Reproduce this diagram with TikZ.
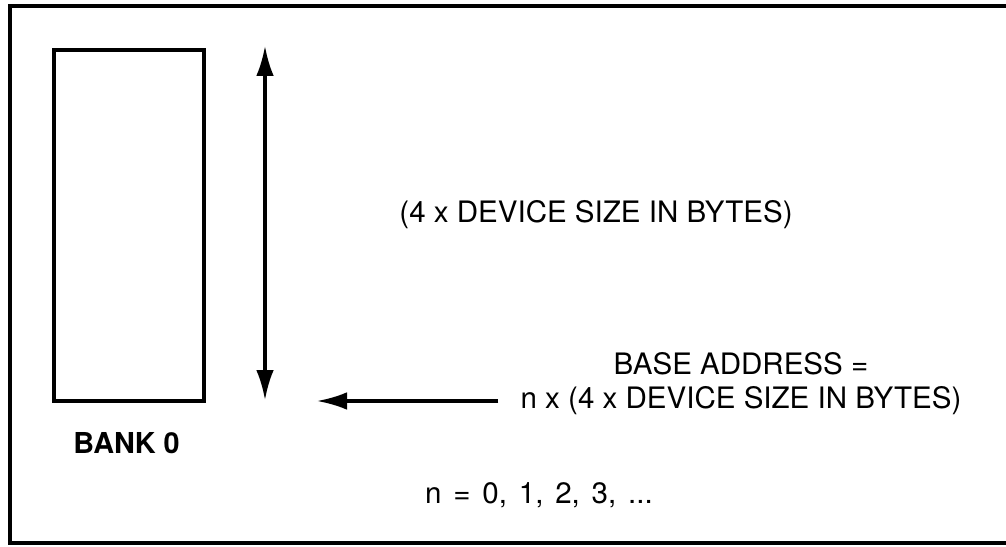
\documentclass[tikz,border=0pt]{standalone}
\usepackage{fontspec}
\setmainfont{TeX Gyre Heros}
\usetikzlibrary{arrows.meta}
\tikzset{
  head/.tip={Latex[length=7.5mm,width=4.4mm]},
  bigarrow/.style={line width=2.2pt,-head},
  label/.style={font=\fontsize{21}{24}\selectfont,inner sep=0pt}
}
\begin{document}
\begin{tikzpicture}
\useasboundingbox (0,0) rectangle (25.15,13.65);
% frame, open on the right
\draw[line width=2.8pt](25.15,13.5) -- (0.25,13.5) -- (0.25,0.075) -- (25.15,0.075);

% memory bank
\draw[line width=2.2pt](1.35,3.625) rectangle (5.1,12.4);
\node[label,font=\fontsize{20.5}{24}\selectfont\bfseries] (bank) at (3.1625,2.575) {BANK 0};

% size of one bank
\coordinate (top) at (6.625,12.5);
\coordinate (bot) at (6.625,3.65);
\draw[bigarrow,head-head](top) -- (bot);
\node[label] (size) at (14.9,8.275) {(4 x DEVICE SIZE IN BYTES)};

% base address of bank n
\node[label,align=center] (base) at (18.525,4.0625) {BASE ADDRESS =\\n x (4 x DEVICE SIZE IN BYTES)};
\coordinate (tip) at (7.925,3.625);
\draw[bigarrow](base.west |- tip) ++(-0.55,0) coordinate (tail) -- (tip);
\node[label] (nvals) at (13.475,1.275) {\spaceskip=0.4em\relax n = 0, 1, 2, 3, ...};
\end{tikzpicture}
\end{document}
